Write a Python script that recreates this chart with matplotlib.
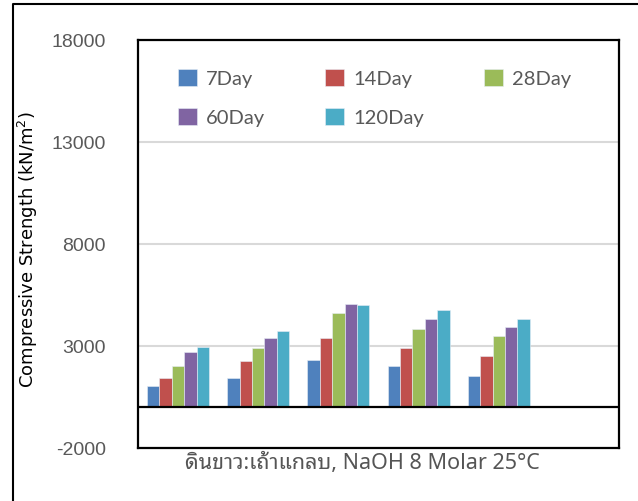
import numpy as np
import matplotlib
matplotlib.use("Agg")
import matplotlib.pyplot as plt
from matplotlib.lines import Line2D

plt.rcParams["axes.unicode_minus"] = False

# five mixes (no tick labels shown on the chart), one slot left empty at the right
mixes = ["1", "2", "3", "4", "5"]
ages = ["7Day", "14Day", "28Day", "60Day", "120Day"]
day7 = [1040, 1420, 2310, 2000, 1540]
day14 = [1420, 2250, 3390, 2890, 2510]
day28 = [2020, 2890, 4600, 3830, 3480]
day60 = [2690, 3380, 5060, 4340, 3920]
day120 = [2950, 3740, 5010, 4780, 4310]
colors = ["#4F81BD", "#C0504D", "#9BBB59", "#8064A2", "#4BACC6"]
yticks = [-2000, 3000, 8000, 13000, 18000]

W, H = 638, 502
fig = plt.figure(figsize=(W / 100, H / 100), dpi=100)
ax = fig.add_axes([138 / W, 1 - 449 / H, 481 / W, 408 / H])

x = np.arange(len(mixes))
bw = 0.155
bars = []
for i, vals in enumerate([day7, day14, day28, day60, day120]):
    b = ax.bar(x + (i - 2) * bw, vals, bw, color=colors[i], label=ages[i],
               edgecolor="#e8eef6", linewidth=0.4, zorder=3)
    bars.append(b)

ax.set_xlim(-0.5, 5.5)
ax.set_ylim(-2000, 18000)
ax.set_yticks(yticks)
ax.set_xticks([])
ax.tick_params(axis="y", length=0, pad=23, labelsize=14, labelcolor="#595959")
for lab in ax.get_yticklabels():
    lab.set_family("Liberation Sans")
ax.grid(axis="y", color="#d9d9d9", linewidth=1.5, zorder=0)
ax.axhline(0, color="black", linewidth=1.6, zorder=4)
for s in ax.spines.values():
    s.set_linewidth(1.6)
    s.set_color("black")

ax.set_ylabel("Compressive Strength (kN/m$^2$)", fontsize=13, color="black",
              va="center")
ax.yaxis.set_label_coords((28 - 138) / 481, 0.49)

fig.text(362 / W, 1 - 463 / H, "ดินขาว:เถ้าแกลบ, NaOH 8 Molar 25°C",
         family=["Noto Sans Thai Looped", "Noto Sans"], fontsize=15.5,
         color="#555555", ha="center", va="center")

# legend laid out row by row like the original
order = [0, 3, 1, 4, 2]
leg = fig.legend([bars[i] for i in order], [ages[i] for i in order], ncol=3,
                 loc="upper left", bbox_to_anchor=(178 / W, 1 - 70 / H),
                 frameon=False, borderpad=0, borderaxespad=0,
                 handlelength=0.93, handleheight=0.93, handletextpad=0.45,
                 columnspacing=3.0, labelspacing=1.0,
                 prop={"family": "Lato", "size": 14.5})
for t in leg.get_texts():
    t.set_color("#595959")

# outer chart border (left and top edges visible)
fig.add_artist(Line2D([13 / W, 13 / W, 1], [0, 1 - 5 / H, 1 - 5 / H],
                      transform=fig.transFigure, color="black", linewidth=1.5))

fig.savefig("out.png", dpi=100)
